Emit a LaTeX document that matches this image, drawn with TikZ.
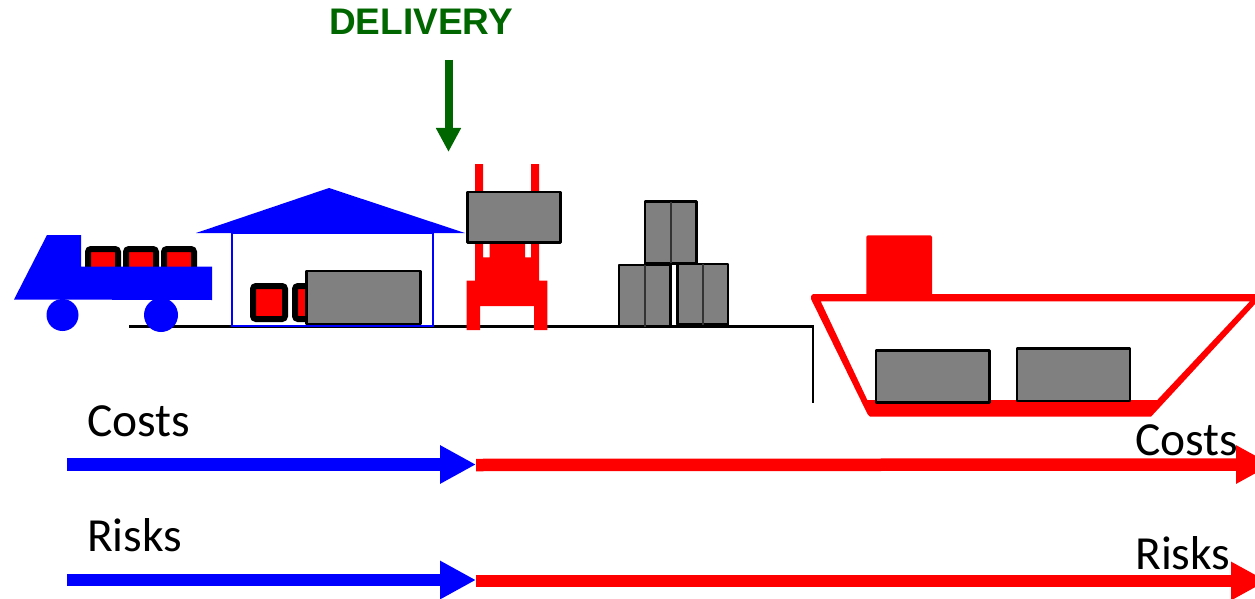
\documentclass[tikz,border=0pt]{standalone}
\usepackage{fontspec}
\setmainfont{Carlito}
\newfontfamily\delfont{Liberation Sans}
\usetikzlibrary{arrows.meta}
\definecolor{dgreen}{RGB}{0,102,0}
\definecolor{boxgray}{RGB}{128,128,128}
\tikzset{
  x=1pt,y=-1pt,
  crate/.style={fill=boxgray,draw=black,line width=2.5pt,line join=round},
  crateline/.style={draw=black!80,line width=1.8pt},
  barrel/.style={fill=red,draw=black,line width=6pt,rounded corners=3pt},
  label text/.style={font=\fontsize{47.5}{47.5}\selectfont,anchor=base west,inner sep=0pt,text=black},
  flow blue/.style={draw=blue,line width=12.5pt,-{Triangle[length=36pt,width=36pt,fill=blue]}},
  flow red/.style={draw=red,line width=12.5pt,-{Triangle[length=36pt,width=36pt,fill=red]}},
  ground/.style={draw=black,line width=2.2pt},
}
\begin{document}
\begin{tikzpicture}
\useasboundingbox (0,0) rectangle (1255,599);
\clip (0,0) rectangle (1255,599);
% ground
\draw[ground] (129,326.5) -- (813,326.5) -- (813,403);
% truck barrels
\draw[barrel] (88,249) rectangle (118,280);
\draw[barrel] (126,249) rectangle (156,280);
\draw[barrel] (164,249) rectangle (194,280);
% truck
\fill[blue] (14,299.5) -- (47,235) -- (81,235) -- (81,266.5) -- (212,266.5) -- (212,300) -- cycle;
\fill[blue] (62.5,315) circle (16);
\fill[blue] (161,315) circle (17);
% warehouse
\fill[blue] (196,233) -- (329,188) -- (465,233) -- cycle;
\draw[blue,line width=2.2pt] (232,233) rectangle (433,326);
\draw[barrel] (253,286) rectangle (285,319);
\draw[barrel] (295,286) rectangle (327,319);
\draw[crate] (306.5,271) rectangle (420.5,324);
% forklift
\fill[red] (475,164) -- (483,164) -- (483,257.3) -- (489.5,257.3) -- (489.5,240) -- (525,240) -- (525,257.3) -- (531,257.3) -- (531,164) -- (539,164) -- (539,280.7) -- (547.3,280.7) -- (547.3,330) -- (534,330) -- (534,306) -- (480,306) -- (480,330) -- (466.7,330) -- (466.7,280.7) -- (475,280.7) -- cycle;
\draw[crate] (467.3,192) rectangle (560.3,242.3);
% crate stack
\draw[crate] (645,201.7) rectangle (696.3,263.3);
\draw[crateline] (670.7,201.7) -- (670.7,263.3);
\draw[crate] (619,265) rectangle (670.3,326.7);
\draw[crateline] (645,265) -- (645,326.7);
\draw[crate] (677.3,264) rectangle (728,324.7);
\draw[crateline] (703.3,264) -- (703.3,324.7);
% ship
\fill[red,even odd rule]
  (813,294) -- (1256,294) -- (1256,303) -- (1151,416.7) -- (870,416.7) -- (867.5,414) -- (811,299) -- (811,296) -- cycle
  (820.7,301.3) -- (1250,301.3) -- (1157.3,400) -- (867.3,400) -- cycle;
\fill[red,rounded corners=1.5pt] (866.3,235.3) rectangle (932,300.5);
\draw[crate] (876,350.7) rectangle (989.3,402.7);
\draw[crate] (1017,348.3) rectangle (1130,401);
% delivery
\node[font=\delfont\bfseries\fontsize{37}{37}\selectfont,text=dgreen,anchor=base,inner sep=0pt] (deliv) at (421,35) {DELIVERY};
\coordinate (d1) at (448.5,60);
\coordinate (d2) at (448.5,152);
\draw[draw=dgreen,line width=8pt,-{Triangle[length=24pt,width=23.5pt,fill=dgreen]}] (d1) -- (d2);
% flows
\coordinate (c0) at (67,464.5);
\coordinate (cm) at (476,464.5);
\coordinate (cm2) at (476,465);
\coordinate (c1) at (1272,464.5);
\coordinate (r0) at (67,580);
\coordinate (rm) at (476,580);
\coordinate (rm2) at (476,581);
\coordinate (r1) at (1267,581);
\draw[flow blue] (c0) -- (cm);
\draw[flow red] (cm2) -- (c1);
\draw[flow blue] (r0) -- (rm);
\draw[flow red] (rm2) -- (r1);
\node[label text] (cost1) at (87,436) {Costs};
\node[label text] (cost2) at (1135,455) {Costs};
\node[label text] (risk1) at (87,551) {Risks};
\node[label text] (risk2) at (1135,569) {Risks};
\end{tikzpicture}
\end{document}
